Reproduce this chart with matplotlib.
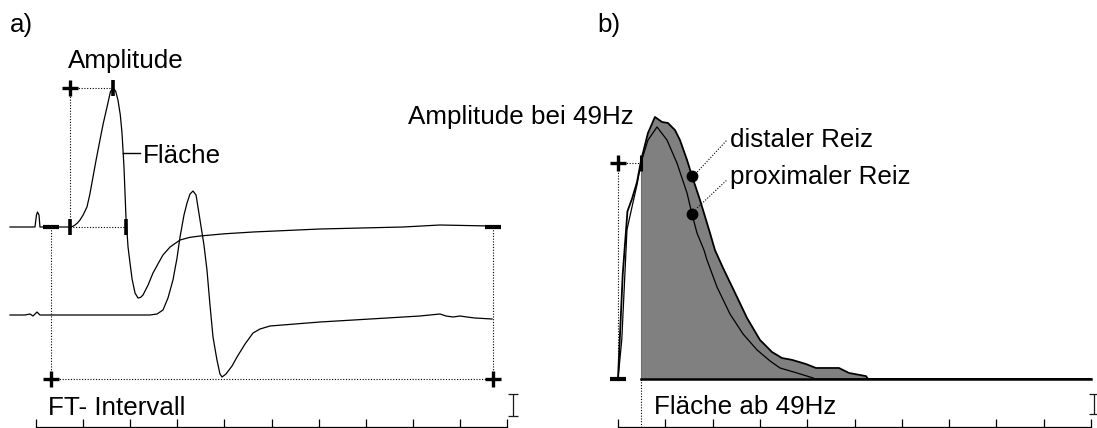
import numpy as np
import matplotlib
matplotlib.use('Agg')
from matplotlib import pyplot as plt

plt.rcParams['font.family'] = ['Liberation Sans', 'DejaVu Sans']
FS = 18.7

# --- a) Muskelantworten (Zeit in ms, Amplitude in mV, jeweils auf eigene Nulllinie) ---
t_dist = [-2.76, -0.21, -0.11, 0.05, 0.16, 0.32, 0.42, 3.61, 3.9, 4.14, 4.4, 4.67, 5.0,
          5.41, 5.7, 6.05, 6.4, 6.79, 7.15, 7.54, 7.9, 8.17, 8.45, 8.70, 8.95, 9.13, 9.34,
          9.55, 9.77, 9.98, 10.2, 10.51, 10.83, 11.1, 11.36, 11.9, 12.42, 13.0, 13.48,
          14.23, 15.29, 16.3, 17.41, 20.0, 23.04, 30.15, 38.96, 42.89, 48.20]
v_dist = [0, 0, 0, 0.30, 0.375, 0.30, 0, 0, 0.015, 0.05, 0.1, 0.175, 0.3,
          0.5, 0.8, 1.25, 1.7, 2.175, 2.6, 3.0, 3.38, 3.475, 3.40, 3.175, 2.8, 2.35, 1.5,
          0.25, -0.5, -0.9, -1.3, -1.65, -1.775, -1.76, -1.7, -1.45, -1.15, -0.9, -0.7,
          -0.5, -0.325, -0.26, -0.225, -0.17, -0.125, -0.05, 0, 0.05, 0.025]

t_prox = [-2.76, -1.17, -0.64, -0.32, 0.11, 0.42, 12.10, 12.85, 13.48, 14.01, 14.54,
          14.97, 15.29, 15.71, 16.03, 16.35, 16.67, 16.99, 17.41, 17.83, 18.15, 18.47,
          18.79, 19.21, 19.53, 19.75, 20.17, 20.81, 21.34, 22.19, 23.04, 23.78, 24.84,
          30.15, 37.26, 40.76, 42.89, 43.52, 44.27, 45.01, 45.75, 46.60, 48.41]
v_prox = [0, 0, 0.025, -0.025, 0.075, 0, 0, 0.025, 0.125, 0.425, 0.875,
          1.425, 1.95, 2.5, 2.8, 3.025, 3.1, 3.0, 2.375, 1.75, 1.125, 0.25,
          -0.55, -1.125, -1.475, -1.55, -1.475, -1.275, -1.05, -0.725, -0.45, -0.35, -0.275,
          -0.175, -0.075, -0.025, 0.025, -0.025, -0.05, -0.025, -0.05, -0.075, -0.1]

off_dist = 5.0      # Nulllinie obere Kurve
off_prox = 2.8      # Nulllinie untere Kurve
ft_start, ft_end = 1.6, 48.5
amp_on, amp_peak, area_end = 3.61, 8.17, 9.55
ft_level = 1.2

# --- b) Amplitudenspektren (Frequenz in Hz, Amplitude in %) ---
f_dist = [0, 10, 20, 30, 40, 49, 63.4, 78.2, 93, 105.7, 120.5, 131, 145.9, 156.4,
          173.4, 194.5, 205, 222, 251.6, 272.7, 300.2, 325.6, 346.7, 367.9, 397.5,
          418.6, 467.2, 488.4, 524.3, 528.5, 1000]
a_dist = [0, 40, 64, 69, 75, 83.6, 93.9, 100, 98.1, 97.7, 95, 91.2, 83.6, 77.5,
          68.3, 55.7, 49.2, 42.4, 31.3, 23.3, 14.9, 10.3, 8.0, 7.3, 5.7,
          4.2, 4.2, 2.3, 1.1, 0, 0]
f_prox = [0, 8, 19, 30, 40, 49, 63.4, 82.5, 103.6, 124.7, 145.9, 156.4, 167, 181.8,
          188.2, 209.3, 236.8, 264.3, 293.9, 321.4, 342.5, 378.4, 412.3, 416.5, 1000]
a_prox = [0, 15, 57, 66, 74, 82.8, 91.2, 96.2, 91.2, 82.4, 71.0, 63.0, 55.7, 49.2,
          45.4, 35.1, 24.8, 17.2, 11.1, 6.9, 4.2, 2.3, 0.4, 0, 0]

f_cut = 49
amp_cut = 82.4
dot_f = [156.4, 156.4]
dot_a = [77.5, 63.0]

fig = plt.figure(figsize=(10.97, 4.28), dpi=100)
ax_a = fig.add_axes([0, 0, 548 / 1097, 1])
ax_b = fig.add_axes([548 / 1097, 0, 549 / 1097, 1])

for ax in (ax_a, ax_b):
    for s in ('top', 'left', 'right'):
        ax.spines[s].set_visible(False)
    ax.spines['bottom'].set_linewidth(0.9)
    ax.tick_params(axis='x', direction='in', length=5.5, width=0.9, labelbottom=False)
    ax.set_yticks([])
    ax.patch.set_alpha(0)

dot = dict(color='black', lw=0.8, ls=(0, (1, 1.5)))
plus = dict(marker='+', ms=11, mew=2.4, color='black', ls='none')
minus = dict(marker='_', ms=12, mew=3, color='black', ls='none')
vbar = dict(marker='|', ms=12, mew=2.6, color='black', ls='none')

# ---------------- a) ----------------
ax_a.set_xlim(-36 / 9.42, (548 - 36) / 9.42)
ax_a.set_ylim(-1 / 40, 427 / 40)
ax_a.spines['bottom'].set_position(('data', 0))
ax_a.spines['bottom'].set_bounds(0, 50)
ax_a.set_xticks(np.arange(0, 51, 5))

ax_a.plot(t_dist, np.array(v_dist) + off_dist, color='black', lw=0.9)
ax_a.plot(t_prox, np.array(v_prox) + off_prox, color='black', lw=0.9)

peak_v = max(v_dist) + off_dist
ax_a.plot([amp_on, amp_on], [peak_v, off_dist], **dot)
ax_a.plot([amp_on, amp_peak], [peak_v, peak_v], **dot)
ax_a.plot([amp_on, area_end], [off_dist, off_dist], **dot)
ax_a.plot([amp_on], [peak_v], **plus)
ax_a.plot([amp_peak], [peak_v], **vbar)
ax_a.plot([amp_on, area_end], [off_dist, off_dist], **vbar)

ax_a.plot([ft_start, ft_start], [off_dist, ft_level], **dot)
ax_a.plot([ft_end, ft_end], [off_dist, ft_level], **dot)
ax_a.plot([ft_start, ft_end], [ft_level, ft_level], **dot)
ax_a.plot([ft_start, ft_end], [off_dist, off_dist], **minus)
ax_a.plot([ft_start, ft_end], [ft_level, ft_level], **plus)

ax_a.plot([9.24, 11.04], [6.85, 6.85], color='black', lw=1.0)
ax_a.errorbar([50.64], [0.55], yerr=[0.275], fmt='none', ecolor='0.1',
              elinewidth=0.9, capsize=3.5, capthick=0.9)

ax_a.text(-2.76, 9.875, 'a)', fontsize=FS, va='baseline')
ax_a.text(3.40, 8.975, 'Amplitude', fontsize=FS, va='baseline')
ax_a.text(11.36, 6.6, 'Fläche', fontsize=FS, va='baseline')
ax_a.text(1.27, 0.3, 'FT- Intervall', fontsize=FS, va='baseline')

# ---------------- b) ----------------
ax_b.set_xlim((548 - 618) / 0.473, (1097 - 618) / 0.473)
ax_b.set_ylim(-49 / 2.62, 379 / 2.62)
ax_b.spines['bottom'].set_position(('data', -48 / 2.62))
ax_b.spines['bottom'].set_bounds(0, 1000)
ax_b.set_xticks(np.arange(0, 1001, 100))

f_d = np.array(f_dist)
a_d = np.array(a_dist)
ax_b.fill_between(f_d, 0, a_d, where=f_d >= f_cut, color='#808080', lw=0)
ax_b.plot([f_cut, f_cut], [0, a_d[f_d == f_cut][0]], color='#707070', lw=0.8)
ax_b.plot(f_dist, a_dist, color='black', lw=1.3)
ax_b.plot(f_prox, a_prox, color='black', lw=0.9)
ax_b.plot([f_cut, 1000], [0, 0], color='black', lw=1.8)

ax_b.plot([0, 0], [0, amp_cut], **dot)
ax_b.plot([0, f_cut], [amp_cut, amp_cut], **dot)
ax_b.plot([f_cut, f_cut], [0, -48 / 2.62], **dot)
ax_b.plot([0], [amp_cut], **plus)
ax_b.plot([0], [0], **minus)
ax_b.plot([f_cut], [amp_cut], marker='|', ms=11, mew=2.2, color='black', ls='none')

ax_b.plot(dot_f, dot_a, 'o', color='black', ms=7.5)
ax_b.plot([dot_f[0] + 11, 230.4], [dot_a[0] + 1.5, 91.2], **dot)
ax_b.plot([dot_f[1] + 11, 230.4], [dot_a[1] + 2.3, 76.0], **dot)

ax_b.errorbar([1006], [-9.55], yerr=[3.85], fmt='none', ecolor='0.1',
              elinewidth=0.9, capsize=3.5, capthick=0.9, clip_on=False)

ax_b.text(-44.4, 132.4, 'b)', fontsize=FS, va='baseline')
ax_b.text(-444, 97.3, 'Amplitude bei 49Hz', fontsize=FS, va='baseline')
ax_b.text(236.8, 88.5, 'distaler Reiz', fontsize=FS, va='baseline')
ax_b.text(236.8, 74.4, 'proximaler Reiz', fontsize=FS, va='baseline')
ax_b.text(76.1, -13.4, 'Fläche ab 49Hz', fontsize=FS, va='baseline')

fig.savefig('out.png', dpi=100)
